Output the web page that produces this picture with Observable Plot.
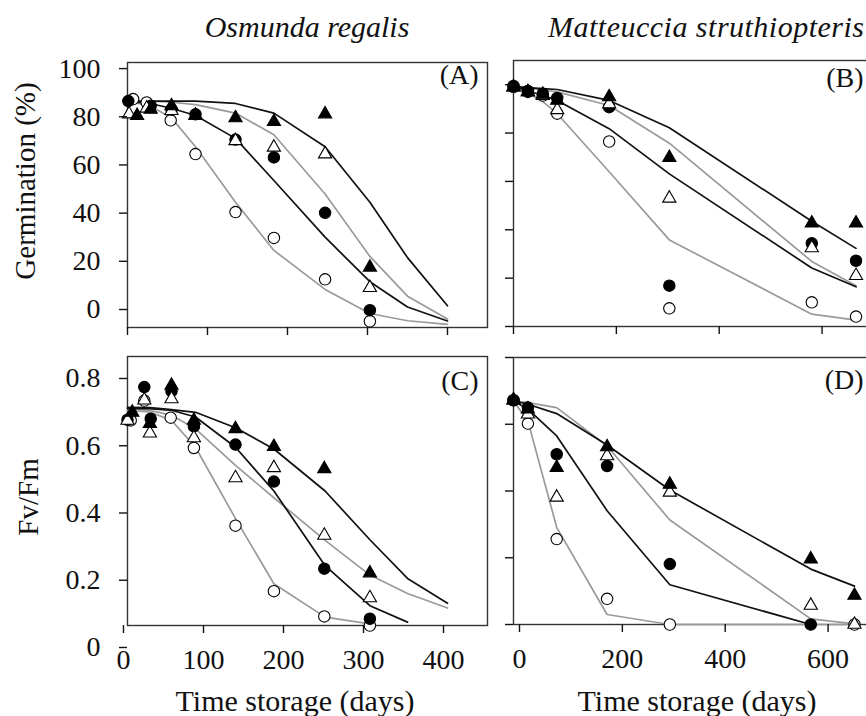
<!DOCTYPE html>
<html><head><meta charset="utf-8">
<script src="https://cdn.jsdelivr.net/npm/d3@7"></script>
<script src="https://cdn.jsdelivr.net/npm/@observablehq/plot@0.6"></script>
<style>
html,body{margin:0;padding:0;background:#fff;overflow:hidden;}
#wrap{position:relative;width:866px;height:716px;overflow:hidden;background:#fff;}
.panel{position:absolute;}
.panel svg{max-width:none !important;}
#labels{position:absolute;left:0;top:0;pointer-events:none;}
</style></head><body><div id="wrap"></div>
<script>
// ---------- titles / labels ----------
const speciesTitles = ["Osmunda regalis", "Matteuccia struthiopteris"];
const yTitles = ["Germination (%)", "Fv/Fm"];
const xTitle = "Time storage (days)";
const panelLetters = ["(A)", "(B)", "(C)", "(D)"];

// ---------- tick values ----------
const ticksX1 = [0, 100, 200, 300, 400];
const ticksX2 = [0, 200, 400, 600];
const ticksGerm = [0, 20, 40, 60, 80, 100];
const ticksFvFm = [0, 0.2, 0.4, 0.6, 0.8];

// ---------- Panel A: Osmunda germination ----------
const aLineDays = [0, 28, 55, 85, 135, 183, 247, 303, 350, 400];
const aLineFilledTriangle = [94, 94, 94, 94, 93, 89, 75, 52, 29, 9];
const aLineOpenTriangle = [94, 94, 93.5, 92.5, 89, 80, 55.4, 29.5, 13, 3.5];
const aLineFilledCircle = [94, 93, 91, 88, 78.5, 61, 37.5, 19, 8.5, 2.7];
const aLineOpenCircle = [94, 92, 87, 75, 52, 32, 15.8, 5.8, 2.8, 1.3];
const aDaysFilledCircle = [1, 29, 55, 85, 135, 183, 247, 303];
const aFilledCircle = [94, 92, 90.5, 88.5, 78, 70.6, 47.6, 7.2];
const aDaysOpenCircle = [7, 24, 54, 85, 135, 183, 247, 303];
const aOpenCircle = [94.8, 93.4, 86, 72, 47.9, 37.2, 20, 2.6];
const aDaysFilledTriangle = [12, 29, 55, 85, 135, 183, 247, 303];
const aFilledTriangle = [87.9, 90.5, 92, 88, 87, 85.4, 88.6, 25];
const aDaysOpenTriangle = [2, 24, 55, 85, 135, 183, 247, 303];
const aOpenTriangle = [88.6, 91, 90, 88, 77.5, 74.8, 72, 16.5];

// ---------- Panel B: Matteuccia germination ----------
const bLineDays = [0, 28, 57, 85, 186, 303, 580, 666];
const bLineFilledTriangle = [99.3, 98.8, 98.4, 98, 93.5, 82.2, 43.5, 32.3];
const bLineOpenTriangle = [99.3, 98.5, 97.8, 97, 91.4, 75.8, 26.9, 16.9];
const bLineFilledCircle = [99.3, 97.5, 95.5, 93.5, 81.8, 63.1, 24.2, 16.4];
const bLineOpenCircle = [99.3, 96.5, 93, 88, 64, 35.8, 5.1, 2.6];
const bDays = [0, 28, 57, 85, 186, 303, 580, 666];
const bFilledCircle = [99.5, 97.4, 96.3, 94.5, 90.7, 16.9, 34.4, 27.2];
const bOpenCircle = [99, 97, 95.5, 88, 76.5, 7.5, 10, 4.1];
const bFilledTriangle = [99, 97, 96, 93.5, 94.9, 69.8, 42.7, 42.7];
const bOpenTriangle = [99, 97, 95.5, 89.6, 92, 53, 32.5, 21];

// ---------- Panel C: Osmunda Fv/Fm ----------
const cLineDays = [0, 28, 55, 85, 135, 183, 247, 303, 350, 400];
const cLineFilledTriangle = [0.649, 0.648, 0.642, 0.634, 0.588, 0.525, 0.40, 0.255, 0.14, 0.066];
const cLineOpenTriangle = [0.645, 0.64, 0.625, 0.585, 0.476, 0.38, 0.253, 0.15, 0.095, 0.052];
const cLineDaysFilledCircle = [0, 28, 55, 85, 135, 183, 247, 303, 350];
const cLineFilledCircle = [0.645, 0.645, 0.64, 0.62, 0.53, 0.40, 0.178, 0.059, 0.01];
const cLineDaysOpenCircle = [0, 28, 55, 85, 135, 183, 247, 303];
const cLineOpenCircle = [0.64, 0.635, 0.61, 0.53, 0.318, 0.124, 0.025, 0.005];
const cDaysFilledCircle = [0, 21, 29, 55, 83, 135, 183, 246, 303];
const cFilledCircle = [0.612, 0.709, 0.615, 0.697, 0.592, 0.538, 0.428, 0.169, 0.020];
const cDaysOpenCircle = [4, 21, 54, 83, 135, 183, 246, 303];
const cOpenCircle = [0.61, 0.669, 0.618, 0.528, 0.297, 0.102, 0.027, 0.0];
const cDaysFilledTriangle = [6, 28, 55, 83, 135, 183, 246, 303];
const cFilledTriangle = [0.634, 0.60, 0.714, 0.61, 0.585, 0.532, 0.466, 0.156];
const cDaysOpenTriangle = [0, 21, 28, 55, 83, 135, 183, 246, 303];
const cOpenTriangle = [0.61, 0.67, 0.572, 0.674, 0.558, 0.439, 0.469, 0.268, 0.082];

// ---------- Panel D: Matteuccia Fv/Fm ----------
const dLineDays = [0, 28, 84, 182, 304, 578, 663];
const dLineFilledTriangle = [0.67, 0.66, 0.632, 0.538, 0.403, 0.166, 0.115];
const dLineOpenTriangle = [0.67, 0.665, 0.65, 0.535, 0.313, 0.017, 0.002];
const dLineDaysFilledCircle = [0, 28, 84, 182, 304, 578];
const dLineFilledCircle = [0.67, 0.645, 0.565, 0.341, 0.119, 0.0];
const dLineOpenCircle = [0.67, 0.61, 0.291, 0.03, 0.0, 0.0, 0.0];
const dDaysFilledCircle = [0, 28, 84, 182, 304, 578];
const dFilledCircle = [0.672, 0.65, 0.51, 0.475, 0.181, 0.0];
const dDaysOpenCircle = [0, 28, 84, 182, 304, 663];
const dOpenCircle = [0.672, 0.602, 0.256, 0.077, 0.0, 0.0];
const dDaysTriangle = [0, 28, 84, 182, 304, 578, 663];
const dFilledTriangle = [0.672, 0.645, 0.47, 0.532, 0.42, 0.196, 0.087];
const dOpenTriangle = [0.672, 0.63, 0.381, 0.505, 0.396, 0.057, 0.0];

// ---------- helpers ----------
const FONT = "'Liberation Serif', 'Times New Roman', serif";
const BLACK = "#111", GRAY = "#9a9a9a";
const pts = (days, vals) => days.map((d, i) => ({day: d, value: vals[i]}));

function makePanel(o) {
  const marks = [Plot.frame({stroke: "#333", strokeWidth: 1.4})];
  for (const L of o.lines) {
    marks.push(Plot.line(pts(L.days, L.vals), {x: "day", y: "value", stroke: L.color, strokeWidth: 1.7}));
  }
  for (const P of o.points) {
    const filled = P.kind.startsWith("filled");
    const tri = P.kind.endsWith("Triangle");
    marks.push(Plot.dot(pts(P.days, P.vals), {
      x: "day", y: "value", symbol: tri ? "triangle" : "circle",
      r: tri ? 4.9 : 5.7, fill: filled ? "#000" : "#fff", stroke: "#000", strokeWidth: 1.1
    }));
  }
  marks.push(Plot.axisX({ticks: o.xTicks, tickSize: 8, tickPadding: 16, strokeWidth: 1.4, label: null,
    tickFormat: o.xLabels ? (d => String(d)) : (() => ""), dx: o.xDx || 0}));
  marks.push(Plot.axisY({ticks: o.yTicks, tickSize: 8, tickPadding: 19, strokeWidth: 1.4, label: null,
    tickFormat: o.yLabels ? o.yFormat : (() => ""), dy: o.yDy || 0}));
  marks.push(Plot.text([o.letter], {frameAnchor: "top-right", textAnchor: "end", lineAnchor: "middle",
    dx: o.letterDx, dy: o.letterDy, fontSize: 28, fill: "#111"}));
  const svg = Plot.plot({
    width: o.width, height: o.height,
    marginLeft: o.ml, marginRight: o.mr, marginTop: o.mt, marginBottom: o.mb,
    x: {domain: o.xDomain, label: null},
    y: {domain: o.yDomain, label: null},
    style: {fontFamily: FONT, fontSize: "28px", color: "#111", background: "transparent",
      overflow: "visible", maxWidth: "none"},
    marks
  });
  svg.setAttribute("width", o.width);
  svg.setAttribute("height", o.height);
  svg.style.width = o.width + "px";
  svg.style.height = o.height + "px";
  const div = document.createElement("div");
  div.className = "panel";
  div.style.left = o.left + "px";
  div.style.top = o.top + "px";
  div.style.width = o.width + "px";
  div.style.height = o.height + "px";
  div.appendChild(svg);
  document.getElementById("wrap").appendChild(div);
}

const fmtGerm = d => String(d);
const fmtFv = d => d === 0 ? "0" : d.toFixed(1);

makePanel({
  left: 0, top: 40, width: 500, height: 300, ml: 127, mr: 13, mt: 22, mb: 13,
  xDomain: [0, 450], yDomain: [0, 110], xTicks: ticksX1, yTicks: ticksGerm,
  xLabels: false, yLabels: true, yFormat: fmtGerm, yDy: -18,
  letter: panelLetters[0], letterDx: -9, letterDy: 13,
  lines: [
    {days: aLineDays, vals: aLineOpenCircle, color: GRAY},
    {days: aLineDays, vals: aLineOpenTriangle, color: GRAY},
    {days: aLineDays, vals: aLineFilledCircle, color: BLACK},
    {days: aLineDays, vals: aLineFilledTriangle, color: BLACK}
  ],
  points: [
    {kind: "openCircle", days: aDaysOpenCircle, vals: aOpenCircle},
    {kind: "filledCircle", days: aDaysFilledCircle, vals: aFilledCircle},
    {kind: "openTriangle", days: aDaysOpenTriangle, vals: aOpenTriangle},
    {kind: "filledTriangle", days: aDaysFilledTriangle, vals: aFilledTriangle}
  ]
});

makePanel({
  left: 500, top: 40, width: 380, height: 300, ml: 13, mr: 7, mt: 20, mb: 14,
  xDomain: [0, 700], yDomain: [0, 110], xTicks: ticksX2, yTicks: ticksGerm,
  xLabels: false, yLabels: false,
  letter: panelLetters[1], letterDx: -10, letterDy: 18,
  lines: [
    {days: bLineDays, vals: bLineOpenCircle, color: GRAY},
    {days: bLineDays, vals: bLineOpenTriangle, color: GRAY},
    {days: bLineDays, vals: bLineFilledCircle, color: BLACK},
    {days: bLineDays, vals: bLineFilledTriangle, color: BLACK}
  ],
  points: [
    {kind: "openCircle", days: bDays, vals: bOpenCircle},
    {kind: "filledCircle", days: bDays, vals: bFilledCircle},
    {kind: "openTriangle", days: bDays, vals: bOpenTriangle},
    {kind: "filledTriangle", days: bDays, vals: bFilledTriangle}
  ]
});

makePanel({
  left: 0, top: 340, width: 500, height: 376, ml: 127, mr: 13, mt: 16, mb: 91,
  xDomain: [0, 450], yDomain: [0, 0.8], xTicks: ticksX1, yTicks: ticksFvFm,
  xLabels: true, xDx: -4, yLabels: true, yFormat: fmtFv, yDy: 22,
  letter: panelLetters[2], letterDx: -9, letterDy: 25,
  lines: [
    {days: cLineDaysOpenCircle, vals: cLineOpenCircle, color: GRAY},
    {days: cLineDays, vals: cLineOpenTriangle, color: GRAY},
    {days: cLineDaysFilledCircle, vals: cLineFilledCircle, color: BLACK},
    {days: cLineDays, vals: cLineFilledTriangle, color: BLACK}
  ],
  points: [
    {kind: "openCircle", days: cDaysOpenCircle, vals: cOpenCircle},
    {kind: "filledCircle", days: cDaysFilledCircle, vals: cFilledCircle},
    {kind: "openTriangle", days: cDaysOpenTriangle, vals: cOpenTriangle},
    {kind: "filledTriangle", days: cDaysFilledTriangle, vals: cFilledTriangle}
  ]
});

makePanel({
  left: 500, top: 340, width: 380, height: 376, ml: 13, mr: 7, mt: 17, mb: 92,
  xDomain: [0, 700], yDomain: [0, 0.8], xTicks: ticksX2, yTicks: ticksFvFm,
  xLabels: true, xDx: 6, yLabels: false,
  letter: panelLetters[3], letterDx: -10, letterDy: 23,
  lines: [
    {days: dLineDays, vals: dLineOpenCircle, color: GRAY},
    {days: dLineDays, vals: dLineOpenTriangle, color: GRAY},
    {days: dLineDaysFilledCircle, vals: dLineFilledCircle, color: BLACK},
    {days: dLineDays, vals: dLineFilledTriangle, color: BLACK}
  ],
  points: [
    {kind: "openCircle", days: dDaysOpenCircle, vals: dOpenCircle},
    {kind: "filledCircle", days: dDaysFilledCircle, vals: dFilledCircle},
    {kind: "openTriangle", days: dDaysTriangle, vals: dOpenTriangle},
    {kind: "filledTriangle", days: dDaysTriangle, vals: dFilledTriangle}
  ]
});

// ---------- text overlay ----------
const lab = d3.select("#wrap").append("svg").attr("id", "labels")
  .attr("width", 866).attr("height", 716)
  .style("font-family", FONT).style("fill", "#111");
lab.append("text").attr("x", 307).attr("y", 37).attr("text-anchor", "middle")
  .attr("font-size", 30).attr("font-style", "italic").text(speciesTitles[0]);
lab.append("text").attr("x", 706).attr("y", 37).attr("text-anchor", "middle")
  .attr("font-size", 30).attr("font-style", "italic").attr("textLength", 316).text(speciesTitles[1]);
lab.append("text").attr("transform", "translate(35,181) rotate(-90)").attr("text-anchor", "middle")
  .attr("font-size", 29).text(yTitles[0]);
lab.append("text").attr("transform", "translate(38,497) rotate(-90)").attr("text-anchor", "middle")
  .attr("font-size", 29).text(yTitles[1]);
lab.append("text").attr("x", 295).attr("y", 711).attr("text-anchor", "middle")
  .attr("font-size", 30).text(xTitle);
lab.append("text").attr("x", 697).attr("y", 711).attr("text-anchor", "middle")
  .attr("font-size", 30).text(xTitle);
</script></body></html>
